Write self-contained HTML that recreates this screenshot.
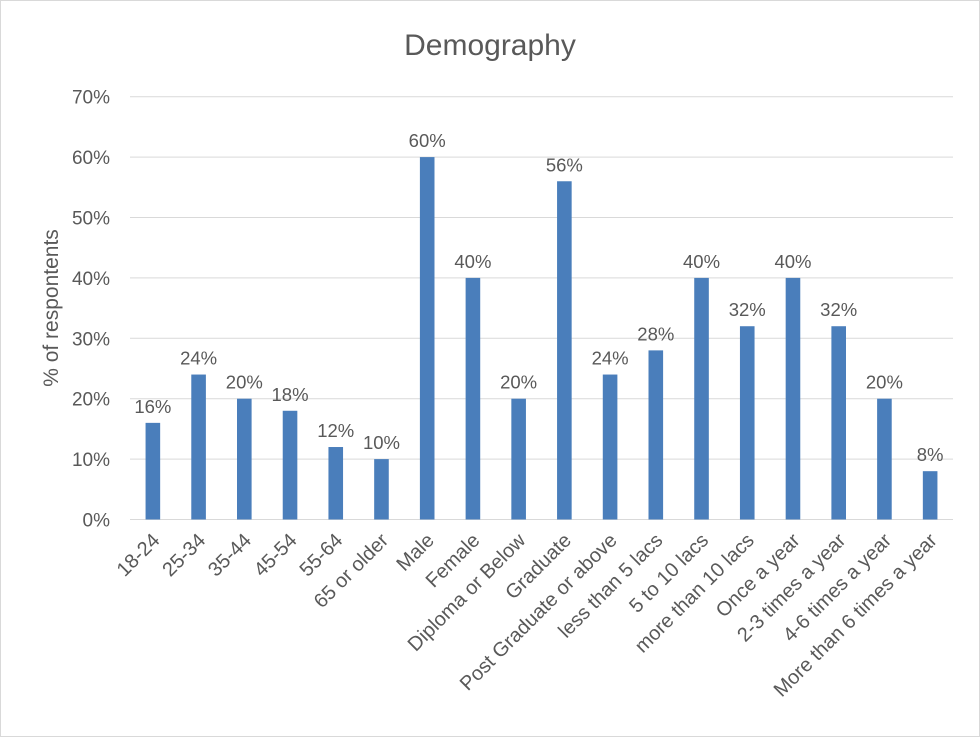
<!DOCTYPE html>
<html><head><meta charset="utf-8"><style>
body{margin:0;background:#fff}
svg{display:block;font-family:"Liberation Sans",sans-serif}
</style></head><body>
<svg width="980" height="737" viewBox="0 0 980 737">
<rect x="0.5" y="0.5" width="979" height="736" fill="#fff" stroke="#d9d9d9"/>
<text x="490" y="55" font-size="30" fill="#595959" text-anchor="middle">Demography</text>
<text transform="translate(58,308) rotate(-90)" font-size="21" fill="#595959" text-anchor="middle">% of respontents</text>
<g id="grid"></g><g id="bars"></g><g id="labels"></g>
</svg>
<script>
const categories=["18-24","25-34","35-44","45-54","55-64","65 or older","Male","Female","Diploma or Below","Graduate","Post Graduate or above","less than 5 lacs","5 to 10 lacs","more than 10 lacs","Once a year","2-3 times a year","4-6 times a year","More than 6 times a year"];
const values=[16,24,20,18,12,10,60,40,20,56,24,28,40,32,40,32,20,8];
const yTicks=[0,10,20,30,40,50,60,70];
const NS="http://www.w3.org/2000/svg";
const left=130,right=953,y0=519.5,pxPer=6.04;
const step=(right-left)/categories.length,bw=14.6;
const y=v=>y0-v*pxPer, x=i=>left+step*(i+0.5);
function mk(t,a,p){const e=document.createElementNS(NS,t);for(const k in a)e.setAttribute(k,a[k]);p.appendChild(e);return e;}
const g=document.getElementById('grid'),b=document.getElementById('bars'),l=document.getElementById('labels');
yTicks.forEach(t=>{
 const ln=mk('line',{x1:left,x2:right,y1:y(t),y2:y(t),stroke:'#d9d9d9','stroke-width':1},g);
 
 
 const tx=mk('text',{x:left-20,y:y(t)+7,'font-size':19,fill:'#595959','text-anchor':'end'},g);
 tx.textContent=t+'%';
 
 
});
categories.forEach((c,i)=>{
 const r=mk('rect',{x:x(i)-bw/2,y:y(values[i]),width:bw,height:values[i]*pxPer,fill:'#4a7ebb'},b);
 
 
 const v=mk('text',{x:x(i),y:y(values[i])-10,'font-size':18.5,fill:'#595959','text-anchor':'middle'},l);
 v.textContent=values[i]+'%';
 
 
 const t=mk('text',{transform:`translate(${x(i)+8},${y0+22}) rotate(-45)`,'font-size':20,fill:'#595959','text-anchor':'end'},l);
 t.textContent=c;
 
 
});
</script>
</body></html>
